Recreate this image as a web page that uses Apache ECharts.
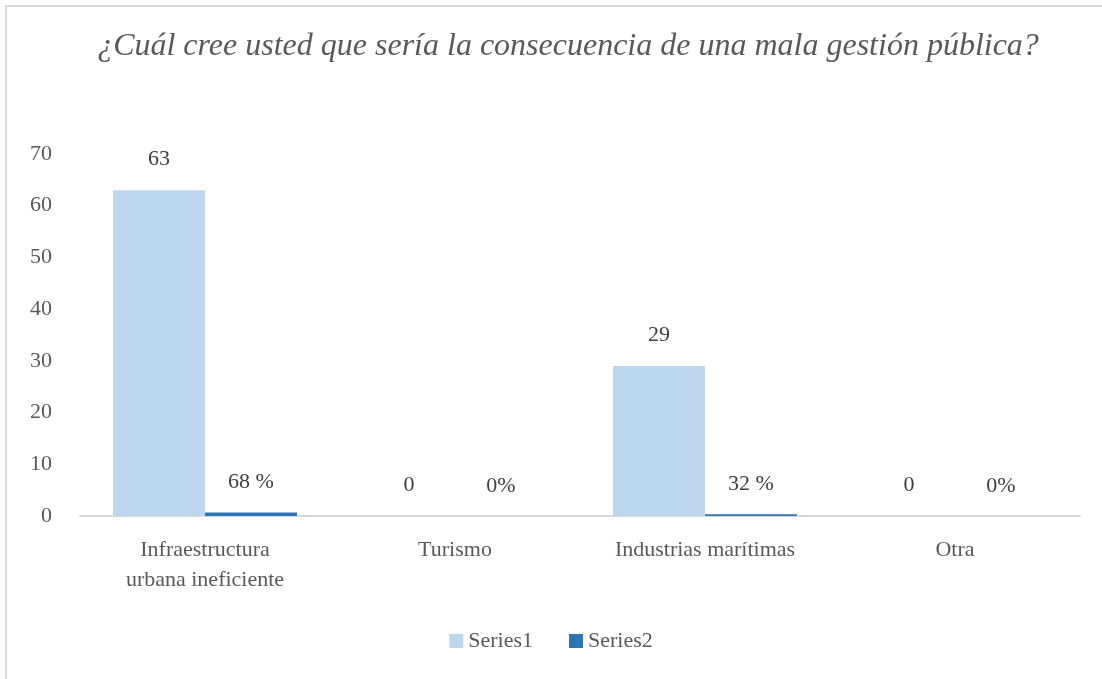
<!DOCTYPE html>
<html>
<head>
<meta charset="utf-8">
<style>
  html, body { margin: 0; padding: 0; background: #fff; }
  #chart { width: 1102px; height: 679px; }
</style>
<script src="https://cdn.jsdelivr.net/npm/echarts@6/dist/echarts.min.js"></script>
</head>
<body>
<div id="chart"></div>
<script>
// Categories and values
const categories = ['Infraestructura\nurbana ineficiente', 'Turismo', 'Industrias marítimas', 'Otra'];
const series1Values = [63, 0, 29, 0];
const series2Values = [0.68, 0, 0.32, 0];
const series2Labels = ['68 %', '0%', '32 %', '0%'];
const yTicks = { min: 0, max: 70, interval: 10 };

const serif = '"Liberation Serif", "DejaVu Serif", serif';
const textColor = '#595959';
const fs = 22;

const chart = echarts.init(document.getElementById('chart'));
chart.setOption({
  animation: false,
  backgroundColor: '#ffffff',
  title: {
    text: '¿Cuál cree usted que sería la consecuencia de una mala gestión pública?',
    left: 563,
    textAlign: 'center',
    top: 26,
    textStyle: { fontFamily: serif, fontStyle: 'italic', fontWeight: 'normal', fontSize: 32, color: textColor }
  },
  graphic: [{
    type: 'rect',
    shape: { x: 6, y: 6, width: 1120, height: 700 },
    style: { fill: 'none', stroke: '#d9d9d9', lineWidth: 2 },
    silent: true, z: -1
  }],
  legend: {
    bottom: 22,
    left: 'center',
    itemWidth: 14,
    itemHeight: 14,
    itemGap: 36,
    icon: 'rect',
    textStyle: { fontFamily: serif, fontSize: fs, color: textColor },
    data: ['Series1', 'Series2']
  },
  grid: { left: 80, right: 22, top: 154, bottom: 163, containLabel: false },
  xAxis: {
    type: 'category',
    data: categories,
    axisLine: { show: true, lineStyle: { color: '#d9d9d9', width: 2 } },
    axisTick: { show: false },
    axisLabel: { fontFamily: serif, fontSize: fs, color: textColor, margin: 19, lineHeight: 30, interval: 0 }
  },
  yAxis: {
    type: 'value',
    min: yTicks.min,
    max: yTicks.max,
    interval: yTicks.interval,
    axisLine: { show: false },
    axisTick: { show: false },
    splitLine: { show: false },
    axisLabel: { fontFamily: serif, fontSize: fs, color: textColor, margin: 28 }
  },
  series: [
    {
      name: 'Series1',
      type: 'bar',
      data: series1Values,
      barWidth: 92,
      barGap: '0%',
      itemStyle: { color: '#bdd7ee' },
      label: { show: true, position: 'top', distance: 20, fontFamily: serif, fontSize: fs, color: '#404040' }
    },
    {
      name: 'Series2',
      type: 'bar',
      data: series2Values,
      barWidth: 92,
      itemStyle: { color: '#2e75b6' },
      label: {
        show: true, position: 'top', distance: 19, fontFamily: serif, fontSize: fs, color: '#404040',
        formatter: p => series2Labels[p.dataIndex]
      }
    }
  ]
});
</script>
</body>
</html>
